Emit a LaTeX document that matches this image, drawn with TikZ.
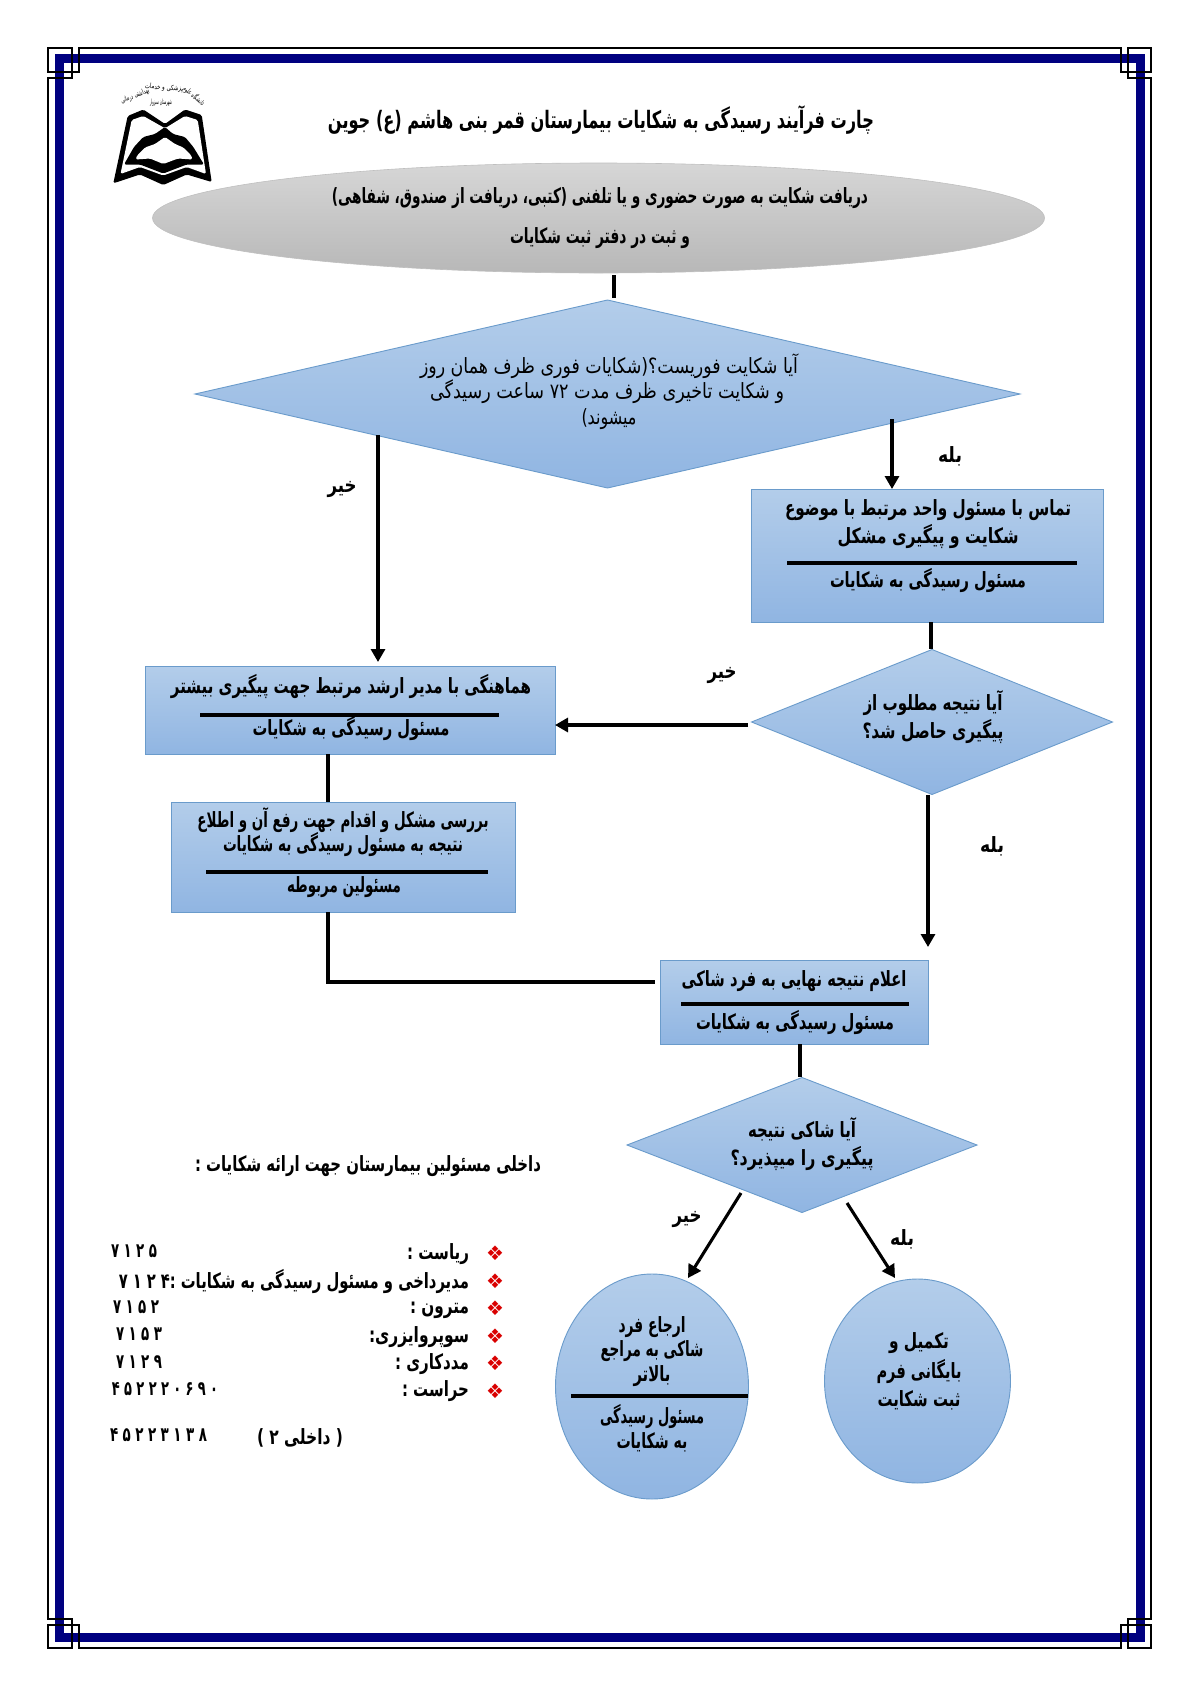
\documentclass[tikz,border=0pt]{standalone}
\usepackage{fontspec}
\usepackage{graphicx}
\usetikzlibrary{shapes.geometric,arrows.meta}
\TeXXeTstate=1
\newfontfamily\arf[Script=Arabic]{DejaVu Sans}
\newfontfamily\symf{DejaVu Sans}
\newcommand{\fa}[2]{\resizebox{\dimexpr#1pt/2\relax}{\height}{#2}}
\newcommand{\fl}[2]{\resizebox{\dimexpr#1pt/2\relax}{\height}{#2}}
\definecolor{navyb}{HTML}{000080}
\definecolor{shapetop}{HTML}{B3CDEA}
\definecolor{shapebot}{HTML}{90B5E2}
\definecolor{shapeline}{HTML}{6A9BCB}
\tikzset{
  sz/.style 2 args={minimum width=#1*0.5pt,minimum height=#2*0.5pt,inner sep=0pt,outer sep=0pt},
  blue shape/.style={draw=shapeline,line width=0.45pt,top color=shapetop,bottom color=shapebot},
  tb/.style={inner sep=0pt,outer sep=0pt,font=\arf\bfseries\fontsize{10.5}{12}\selectfont},
  tr/.style={inner sep=0pt,outer sep=0pt,font=\arf\fontsize{10.5}{12}\selectfont},
  tn/.style={inner sep=0pt,outer sep=0pt,font=\arf\bfseries\fontsize{10}{12}\selectfont,anchor=west},
  ti/.style={inner sep=0pt,outer sep=0pt,font=\arf\bfseries\fontsize{10.5}{12}\selectfont,anchor=east},
  bul/.style={inner sep=0pt,outer sep=0pt,text=red!85!black,font=\symf\fontsize{10}{12}\selectfont},
  lg/.style={inner sep=0pt,outer sep=0pt,font=\arf\fontsize{3.6}{4}\selectfont},
  conn/.style={line width=1.55pt,black},
  arr/.style={line width=1.55pt,black,-{Triangle[width=7pt,length=6.5pt]}},
  sepl/.style={line width=1.55pt,black},
  frameline/.style={line width=0.65pt,black}
}
\begin{document}
\begin{tikzpicture}[x=0.5pt,y=-0.5pt]
\useasboundingbox (0,0) rectangle (1200,1697);
% frame
\draw[navyb,line width=4.5pt] (59.5,58.5) rectangle (1140.5,1637.5);
\draw[frameline] (79,48)--(1121,48)--(1121,72)--(1151,72)--(1151,48)--(1128,48)--(1128,78)--(1151,78)--(1151,1619)--(1128,1619)--(1128,1648)--(1151,1648)--(1151,1625)--(1121,1625)--(1121,1648)--(79,1648)--(79,1625)--(48,1625)--(48,1648)--(72,1648)--(72,1619)--(48,1619)--(48,78)--(72,78)--(72,48)--(48,48)--(48,72)--(79,72)--cycle;
% logo
\fill[black,rounded corners=0.8pt] (113.3,183.3)--(127.7,116)--(143.3,109.5)--(165,124)--(185,109.5)--(201.7,115)--(211.7,182)--(186.7,174.5)--(163.3,185)--(140,174.5)--cycle;
\fill[white,rounded corners=0.8pt] (165,128.3)--(143.3,116)--(131.7,120)--(120.5,174)--(140,167)--(163.3,175.5)--(186.7,167)--(206,174)--(197.7,120)--(185,116)--cycle;
\fill[black,rounded corners=0.8pt] (165,127)--(155,134)--(143.3,137)--(134,147)--(124,164.5)--(140,164.5)--(163.3,173.5)--(186.7,164.5)--(204,164.5)--(193.3,147)--(185,137)--(173,134)--cycle;
\fill[white,rounded corners=0.8pt] (165,137)--(155,144)--(145,147.5)--(137.5,155)--(135.5,159.5)--(150,158.5)--(163.3,164)--(178,158.5)--(192.5,159.5)--(191,155)--(183.3,147.5)--(175,144)--cycle;
\node[lg,rotate=-40] (lg1) at (194,96) {\fa{26}{\beginR دانشگاه علوم\endR}};
\node[lg,rotate=-4] (lg2) at (164,88) {\fa{38}{\beginR پزشکی و خدمات\endR}};
\node[lg,rotate=22] (lg3) at (135,96) {\fa{30}{\beginR بهداشتی درمانی\endR}};
\node[lg] (lg4) at (161,103) {\fa{22}{\beginR شهرستان سبزوار\endR}};
% title
\node[tb,font=\arf\bfseries\fontsize{12}{14}\selectfont] (title) at (601,120) {\fa{546}{\beginR چارت فرآیند رسیدگی به شکایات بیمارستان قمر بنی هاشم (ع) جوین\endR}};
% ellipse
\node[ellipse,sz={892}{110},draw=black!25,line width=0.3pt,top color=black!16,bottom color=black!28] (ell) at (598.5,218) {};
\node[tb] (e1) at (600,198) {\fa{536}{\beginR دریافت شکایت به صورت حضوری و یا تلفنی (کتبی، دریافت از صندوق، شفاهی)\endR}};
\node[tb] (e2) at (600,238) {\fa{180}{\beginR و ثبت در دفتر ثبت شکایات\endR}};
% diamond 1
\node[diamond,sz={825}{188},blue shape] (d1) at (607.5,394) {};
\node[tr] (d1a) at (609,366) {\fa{378}{\beginR آیا شکایت فوریست؟(شکایات فوری ظرف همان روز\endR}};
\node[tr] (d1b) at (607,392) {\fa{354}{\beginR و شکایت تاخیری ظرف مدت ۷۲ ساعت رسیدگی\endR}};
\node[tr] (d1c) at (609,419) {\fa{55}{\beginR میشوند)\endR}};
% box A
\node[rectangle,sz={352}{133},blue shape] (boxa) at (927,555.5) {};
\node[tb] (a1) at (928,510) {\fa{286}{\beginR تماس با مسئول واحد مرتبط با موضوع\endR}};
\node[tb] (a2t) at (928,537) {\fa{181}{\beginR شکایت و پیگیری مشکل\endR}};
\draw[sepl] (787,563)--(1077,563);
\node[tb] (a3) at (928,581) {\fa{196}{\beginR مسئول رسیدگی به شکایات\endR}};
% diamond 2
\node[diamond,sz={361}{145},blue shape] (d2) at (932,722) {};
\node[tb] (d2a) at (933,703) {\fa{139}{\beginR آیا نتیجه مطلوب از\endR}};
\node[tb] (d2b) at (933,732) {\fa{141}{\beginR پیگیری حاصل شد؟\endR}};
% box B
\node[rectangle,sz={410}{88},blue shape] (boxb) at (350,710) {};
\node[tb] (b1) at (351,687) {\fa{360}{\beginR هماهنگی با مدیر ارشد مرتبط جهت پیگیری بیشتر\endR}};
\draw[sepl] (200,715)--(499,715);
\node[tb] (b2) at (351,729) {\fa{197}{\beginR مسئول رسیدگی به شکایات\endR}};
% box C
\node[rectangle,sz={344}{110},blue shape] (boxc) at (343,857) {};
\node[tb] (c1t) at (343,820) {\fa{291}{\beginR بررسی مشکل و اقدام جهت رفع آن و اطلاع\endR}};
\node[tb] (c2t) at (343,845) {\fa{240}{\beginR نتیجه به مسئول رسیدگی به شکایات\endR}};
\draw[sepl] (206,872)--(488,872);
\node[tb] (c3t) at (344,887) {\fa{114}{\beginR مسئولین مربوطه\endR}};
% box D
\node[rectangle,sz={268}{84},blue shape] (boxd) at (794,1002) {};
\node[tb] (dd1) at (794,981) {\fa{225}{\beginR اعلام نتیجه نهایی به فرد شاکی\endR}};
\draw[sepl] (681,1004)--(909,1004);
\node[tb] (dd2) at (795,1022) {\fa{198}{\beginR مسئول رسیدگی به شکایات\endR}};
% diamond 3
\node[diamond,sz={350}{135},blue shape] (d3) at (802,1145) {};
\node[tb] (d3a) at (802,1129) {\fa{108}{\beginR آیا شاکی نتیجه\endR}};
\node[tb] (d3b) at (802,1158) {\fa{143}{\beginR پیگیری را میپذیرد؟\endR}};
% circle E
\node[ellipse,sz={193}{225},blue shape] (ce) at (652,1386.5) {};
\node[tb] (ce1) at (652,1327) {\fa{67}{\beginR ارجاع فرد\endR}};
\node[tb] (ce2) at (652,1351) {\fa{103}{\beginR شاکی به مراجع\endR}};
\node[tb] (ce3) at (652,1376) {\fa{37}{\beginR بالاتر\endR}};
\draw[sepl] (571,1396)--(748,1396);
\node[tb] (ce4) at (652,1416) {\fa{104}{\beginR مسئول رسیدگی\endR}};
\node[tb] (ce5) at (652,1442) {\fa{71}{\beginR به شکایات\endR}};
% circle F
\node[ellipse,sz={186}{204},blue shape] (cf) at (917.5,1381) {};
\node[tb] (cf1) at (919,1343) {\fa{60}{\beginR تکمیل و\endR}};
\node[tb] (cf2) at (919,1371) {\fa{85}{\beginR بایگانی فرم\endR}};
\node[tb] (cf3) at (919,1400) {\fa{83}{\beginR ثبت شکایت\endR}};
% labels
\node[tb] (no1) at (342,489) {\fa{29}{\beginR خیر\endR}};
\node[tb] (yes1) at (950,456) {\fa{24}{\beginR بله\endR}};
\node[tb] (no2) at (722,675) {\fa{29}{\beginR خیر\endR}};
\node[tb] (yes2) at (992,846) {\fa{24}{\beginR بله\endR}};
\node[tb] (no3) at (687,1219) {\fa{29}{\beginR خیر\endR}};
\node[tb] (yes3) at (902,1239) {\fa{24}{\beginR بله\endR}};
% connectors
\coordinate (k1) at (614,298);
\draw[conn,shorten <=1pt] (ell.south -| k1) -- (k1);
\coordinate (k2) at (378,435);
\draw[arr,shorten >=2pt] (k2) -- (k2 |- boxb.north);
\coordinate (k3) at (892,419);
\draw[arr] (k3) -- (k3 |- boxa.north);
\coordinate (k4) at (931,649);
\draw[conn] (boxa.south -| k4) -- (k4);
\coordinate (k5) at (748,725);
\draw[arr] (k5) -- (k5 -| boxb.east);
\coordinate (k6) at (928,947);
\draw[arr] (d2.south -| k6) -- (k6);
\coordinate (k7) at (328,802);
\draw[conn] (boxb.south -| k7) -- (k7);
\coordinate (k8) at (328,912);
\coordinate (k9) at (655,982);
\draw[conn] (k8) |- (k9);
\coordinate (k10) at (800,1077);
\draw[conn] (boxd.south -| k10) -- (k10);
\coordinate (k11) at (741,1193);
\coordinate (k12) at (688,1278);
\draw[arr] (k11) -- (k12);
\coordinate (k13) at (847,1203);
\coordinate (k14) at (895,1278);
\draw[arr] (k13) -- (k14);
% list
\node[tb] (h1) at (368,1166) {\fa{346}{\beginR داخلی مسئولین بیمارستان جهت ارائه شکایات :\endR}};
\foreach \yy/\nn in {1253/b1x,1281/b2x,1308/b3x,1336/b4x,1363/b5x,1391/b6x}
  \node[bul] (\nn) at (495,\yy) {❖};
\node[ti] (i1) at (469,1254) {\fa{62}{\beginR ریاست :\endR}};
\node[ti] (i2) at (469,1281) {\fa{350}{\beginR مدیرداخی و مسئول رسیدگی به شکایات :\beginL ۷\,\,۱\,\,۲\,\,۴\endL\endR}};
\node[ti] (i3) at (469,1310) {\fa{59}{\beginR مترون :\endR}};
\node[ti] (i4) at (469,1337) {\fa{100}{\beginR سوپروایزری:\endR}};
\node[ti] (i5) at (469,1364) {\fa{74}{\beginR مددکاری :\endR}};
\node[ti] (i6) at (469,1391) {\fa{67}{\beginR حراست :\endR}};
\node[tn] (n1) at (111,1251) {\fl{46}{۷\,\,۱\,\,۲\,\,۵}};
\node[tn] (n3) at (113,1307) {\fl{46}{۷\,\,۱\,\,۵\,\,۲}};
\node[tn] (n4) at (116,1334) {\fl{46}{۷\,\,۱\,\,۵\,\,۳}};
\node[tn] (n5) at (116,1362) {\fl{46}{۷\,\,۱\,\,۲\,\,۹}};
\node[tn] (n6) at (112,1389) {\fl{106}{۴\,\,۵\,\,۲\,\,۲\,\,۲\,\,۰\,\,۶\,\,۹\,\,۰}};
\node[tn] (n7) at (110,1435) {\fl{97}{۴\,\,۵\,\,۲\,\,۲\,\,۳\,\,۱\,\,۳\,\,۸}};
\node[tb] (n8) at (300,1438) {\fa{86}{\beginR ( داخلی ۲ )\endR}};
\end{tikzpicture}
\end{document}
